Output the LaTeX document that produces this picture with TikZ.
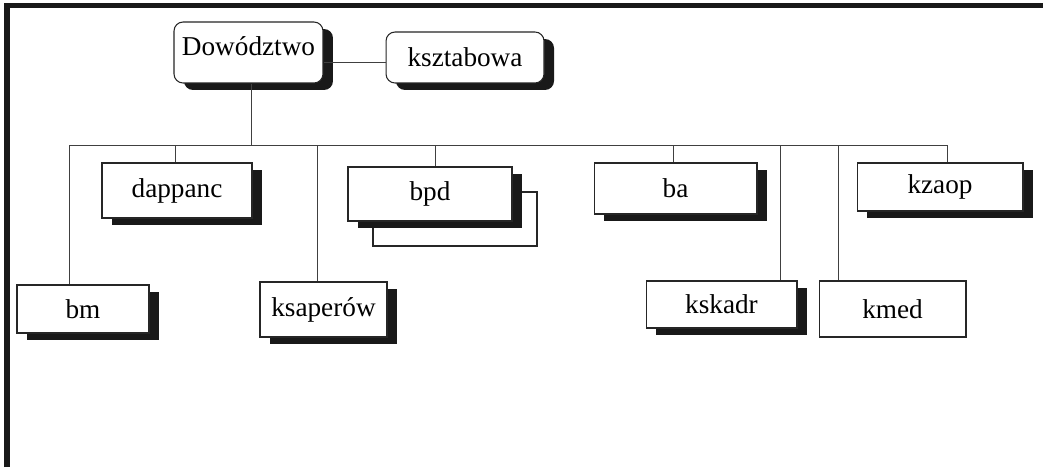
\documentclass[tikz,border=0pt]{standalone}
\usepackage{fontspec}
\setmainfont{Liberation Serif}
\usetikzlibrary{positioning,shadows}

\begin{document}
\begin{tikzpicture}[x=0.02cm, y=-0.02cm,
        unitbox/.style={draw=black!85, line width=0.6pt, fill=white, rectangle, inner sep=0pt,
            font=\fontsize{15.5}{18}\selectfont,
            drop shadow={shadow xshift=0.2cm, shadow yshift=-0.14cm, opacity=1, fill=black!90}},
        plainbox/.style={draw=black!85, line width=0.6pt, fill=white, rectangle, inner sep=0pt,
            font=\fontsize{15.5}{18}\selectfont},
        hq/.style={unitbox, rounded corners=0.18cm},
        link/.style={draw=black!75, line width=0.5pt}
    ]
        \useasboundingbox[fill=white] (0,0) rectangle (1043,467);

        % frame
        \draw[line width=3pt, black!90] (7,467) -- (7,5.5) -- (1043,5.5);

        % command
        \node [hq, minimum width=2.98cm, minimum height=1.22cm, text depth=0.26cm] (dow) at (248.5,52.5) {Dowództwo};
        \node [hq, right=1.24cm of dow, yshift=-0.1cm, minimum width=3.16cm, minimum height=1.02cm] (szt) {ksztabowa};

        % units, upper row
        \node [unitbox, minimum width=3.0cm, minimum height=1.1cm] (dap) at (177,190.5) {dappanc};
        \node [plainbox, minimum width=3.28cm, minimum height=1.08cm] (bpdback) at (455,219) {};
        \node [unitbox, minimum width=3.28cm, minimum height=1.08cm] (bpd) at (430,194) {bpd};
        \node [unitbox, minimum width=3.26cm, minimum height=1.02cm] (ba) at (675.5,188.5) {ba};
        \node [unitbox, minimum width=3.32cm, minimum height=0.96cm] (kzaop) at (940,187) {kzaop};

        % units, lower row
        \node [unitbox, minimum width=2.64cm, minimum height=0.96cm] (bm) at (83,309) {bm};
        \node [unitbox, minimum width=2.54cm, minimum height=1.1cm] (ksap) at (323.5,309.5) {ksaperów};
        \node [unitbox, minimum width=3.02cm, minimum height=0.94cm] (kskadr) at (721.5,304.5) {kskadr};
        \node [plainbox, minimum width=2.94cm, minimum height=1.12cm] (kmed) at (892.5,309) {kmed};

        % bus
        \coordinate (jbm) at (69,145);
        \coordinate (jdap) at (175,145);
        \coordinate (jdow) at (251,145);
        \coordinate (jksap) at (317,145);
        \coordinate (jbpd) at (435,145);
        \coordinate (jba) at (673,145);
        \coordinate (jkskadr) at (780,145);
        \coordinate (jkmed) at (838,145);
        \coordinate (jkzaop) at (947,145);

        \draw [link] ([yshift=-0.09cm]szt.west) -- ([yshift=-0.09cm]szt.west -| dow.east);
        \draw [link] (jdow) -- (jdow |- dow.south);
        \draw [link] (jbm) -- (jkzaop);
        \draw [link] (jbm) -- (jbm |- bm.north);
        \draw [link] (jdap) -- (jdap |- dap.north);
        \draw [link] (jksap) -- (jksap |- ksap.north);
        \draw [link] (jbpd) -- (jbpd |- bpd.north);
        \draw [link] (jba) -- (jba |- ba.north);
        \draw [link] (jkskadr) -- (jkskadr |- kskadr.north);
        \draw [link] (jkmed) -- (jkmed |- kmed.north);
        \draw [link] (jkzaop) -- (jkzaop |- kzaop.north);
    \end{tikzpicture}
\end{document}
